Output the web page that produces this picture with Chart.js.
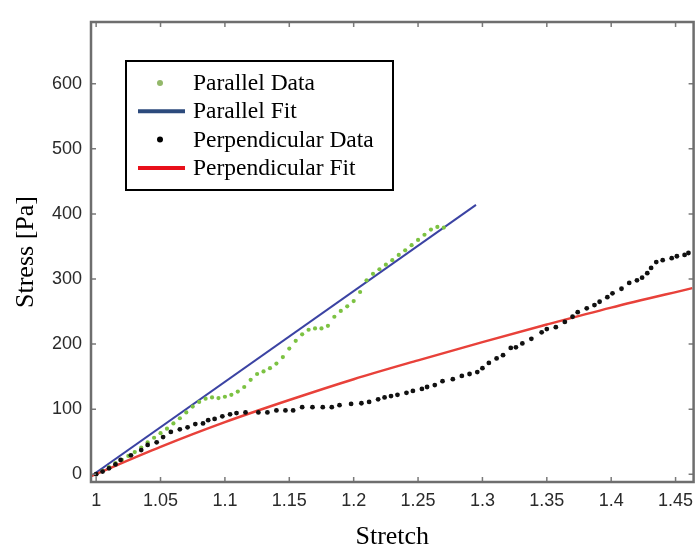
<!DOCTYPE html>
<html>
<head>
<meta charset="utf-8">
<script src="https://cdn.jsdelivr.net/npm/chart.js@4/dist/chart.umd.min.js"></script>
<style>
  html, body { margin: 0; padding: 0; background: #fff; }
</style>
</head>
<body>
<canvas id="stressChart" width="696" height="550"></canvas>
<script>
// Tick labels
const xTicks = [1, 1.05, 1.1, 1.15, 1.2, 1.25, 1.3, 1.35, 1.4, 1.45];
const yTicks = [0, 100, 200, 300, 400, 500, 600];

// Parallel data
const parallelStretch = [1.000, 1.005, 1.010, 1.015, 1.020, 1.025, 1.030, 1.035, 1.040, 1.045,
  1.050, 1.055, 1.060, 1.065, 1.070, 1.075, 1.080, 1.085, 1.090, 1.095,
  1.100, 1.105, 1.110, 1.115, 1.120, 1.125, 1.130, 1.135, 1.140, 1.145,
  1.150, 1.155, 1.160, 1.165, 1.170, 1.175, 1.180, 1.185, 1.190, 1.195,
  1.200, 1.205, 1.210, 1.215, 1.220, 1.225, 1.230, 1.235, 1.240, 1.245,
  1.250, 1.255, 1.260, 1.265, 1.270];
const parallelStress = [0, 5, 11, 17, 22, 28, 34, 41, 49, 56,
  63, 70, 78, 86, 95, 104, 111, 116, 118, 117,
  119, 122, 127, 134, 145, 154, 158, 163, 170, 180,
  193, 205, 215, 222, 224, 224, 228, 242, 251, 258,
  266, 280, 298, 308, 315, 322, 329, 337, 344, 352,
  360, 368, 376, 380, 379];

// Perpendicular data
const perpStretch = [1.000, 1.005, 1.010, 1.015, 1.019, 1.027, 1.035, 1.040, 1.047, 1.052,
  1.058, 1.065, 1.071, 1.077, 1.083, 1.087, 1.092, 1.098, 1.104, 1.109,
  1.116, 1.126, 1.133, 1.140, 1.147, 1.153, 1.160, 1.168, 1.176, 1.183,
  1.189, 1.198, 1.206, 1.212, 1.219, 1.224, 1.229, 1.234, 1.241, 1.246,
  1.253, 1.257, 1.263, 1.269, 1.277, 1.284, 1.290, 1.296, 1.300, 1.305,
  1.311, 1.316, 1.322, 1.326, 1.331, 1.338, 1.346, 1.350, 1.357, 1.364,
  1.370, 1.374, 1.381, 1.387, 1.391, 1.397, 1.401, 1.408, 1.414, 1.420,
  1.424, 1.428, 1.431, 1.435, 1.440, 1.447, 1.451, 1.457, 1.460];
const perpStress = [0, 4, 9, 15, 22, 29, 37, 45, 49, 57,
  65, 69, 72, 77, 78, 83, 85, 89, 92, 94,
  95, 95, 95, 98, 98, 98, 103, 103, 103, 103,
  106, 108, 109, 111, 115, 118, 120, 122, 125, 128,
  131, 134, 137, 143, 146, 151, 154, 157, 163, 171,
  178, 183, 194, 195, 201, 208, 218, 223, 226, 234,
  242, 249, 255, 260, 265, 272, 278, 285, 294, 298,
  302, 309, 317, 326, 329, 332, 335, 337, 340];

// Fits
const parallelFitStretch = [0.996, 1.295];
const parallelFitStress = [-3, 414];
const perpFitStretch = [0.996, 1.05, 1.1, 1.15, 1.2, 1.25, 1.3, 1.35, 1.4, 1.463];
const perpFitStress = [-3, 42, 80, 114, 146, 175, 203, 230, 256, 286];

const toPoints = (xs, ys) => xs.map((x, i) => ({ x: x, y: ys[i] }));

const tickFont = { family: 'Liberation Sans, Arial, sans-serif', size: 18 };
const titleFont = { family: 'Liberation Serif, Times New Roman, serif', size: 26, lineHeight: 1.0 };

// Box around the plot with inward ticks on all four sides
const framePlugin = {
  id: 'frame',
  afterDatasetsDraw(chart) {
    const { ctx, chartArea: a, scales } = chart;
    ctx.save();
    ctx.strokeStyle = '#7a7a7a';
    ctx.lineWidth = 1.5;
    ctx.beginPath();
    xTicks.forEach(v => {
      const px = scales.x.getPixelForValue(v);
      ctx.moveTo(px, a.bottom); ctx.lineTo(px, a.bottom - 5);
      ctx.moveTo(px, a.top); ctx.lineTo(px, a.top + 5);
    });
    yTicks.forEach(v => {
      const py = scales.y.getPixelForValue(v);
      ctx.moveTo(a.left, py); ctx.lineTo(a.left + 5, py);
      ctx.moveTo(a.right, py); ctx.lineTo(a.right - 5, py);
    });
    ctx.stroke();
    ctx.lineWidth = 2.5;
    ctx.strokeStyle = '#6e6e6e';
    ctx.strokeRect(a.left, a.top, a.right - a.left, a.bottom - a.top);
    ctx.restore();
  }
};

// Legend box in the upper left
const legendPlugin = {
  id: 'boxLegend',
  afterDraw(chart) {
    const ctx = chart.ctx;
    const sets = chart.data.datasets;
    ctx.save();
    ctx.fillStyle = '#fff';
    ctx.fillRect(126, 61, 267, 129);
    ctx.strokeStyle = '#000';
    ctx.lineWidth = 2;
    ctx.strokeRect(126, 61, 267, 129);
    ctx.font = '23.5px "Liberation Serif", "Times New Roman", serif';
    ctx.textBaseline = 'middle';
    sets.forEach((ds, i) => {
      const y = 83 + i * 28.3;
      if (ds.showLine) {
        ctx.strokeStyle = ds.legendColor;
        ctx.lineWidth = 4;
        ctx.beginPath();
        ctx.moveTo(138, y); ctx.lineTo(185, y);
        ctx.stroke();
      } else {
        ctx.fillStyle = ds.legendColor;
        ctx.beginPath();
        ctx.arc(160, y, 3, 0, Math.PI * 2);
        ctx.fill();
      }
      ctx.fillStyle = '#000';
      ctx.fillText(ds.label, 193, y + 1);
    });
    ctx.restore();
  }
};

new Chart(document.getElementById('stressChart'), {
  type: 'scatter',
  data: {
    datasets: [
      {
        label: 'Parallel Data',
        data: toPoints(parallelStretch, parallelStress),
        backgroundColor: '#7cc242',
        borderColor: '#7cc242',
        legendColor: '#93b86a',
        pointRadius: 2.1,
        pointHoverRadius: 2.1,
        pointBorderWidth: 0,
        borderWidth: 0,
        showLine: false,
        order: 2
      },
      {
        label: 'Parallel Fit',
        data: toPoints(parallelFitStretch, parallelFitStress),
        borderColor: '#3b43a3',
        legendColor: '#2c4a7c',
        borderWidth: 2,
        pointRadius: 0,
        pointHoverRadius: 0,
        pointBorderWidth: 0,
        showLine: true,
        order: 3
      },
      {
        label: 'Perpendicular Data',
        data: toPoints(perpStretch, perpStress),
        backgroundColor: '#111',
        borderColor: '#111',
        legendColor: '#000',
        pointRadius: 2.4,
        pointHoverRadius: 2.4,
        pointBorderWidth: 0,
        borderWidth: 0,
        showLine: false,
        order: 0
      },
      {
        label: 'Perpendicular Fit',
        data: toPoints(perpFitStretch, perpFitStress),
        borderColor: '#e8413a',
        legendColor: '#e8101a',
        borderWidth: 2.5,
        pointRadius: 0,
        pointHoverRadius: 0,
        pointBorderWidth: 0,
        showLine: true,
        cubicInterpolationMode: 'monotone',
        order: 1
      }
    ]
  },
  options: {
    responsive: false,
    animation: false,
    devicePixelRatio: 1,
    layout: { padding: { top: 22, right: 0, left: 0, bottom: 0 } },
    plugins: {
      legend: { display: false },
      tooltip: { enabled: false }
    },
    scales: {
      x: {
        type: 'linear',
        position: 'bottom',
        min: 0.996,
        max: 1.464,
        afterBuildTicks: s => { s.ticks = xTicks.map(v => ({ value: v })); },
        afterFit: s => { s.height = 68; s.paddingLeft = 0; s.paddingRight = 0; },
        grid: { display: false, drawTicks: false },
        border: { display: false },
        ticks: { font: tickFont, color: '#2a2a2a', padding: 8, maxRotation: 0, callback: v => String(v) },
        title: { display: true, text: 'Stretch', font: titleFont, color: '#000', padding: { top: 0, bottom: 0 } }
      },
      y: {
        type: 'linear',
        min: -12,
        max: 695,
        afterBuildTicks: s => { s.ticks = yTicks.map(v => ({ value: v })); },
        afterFit: s => { s.width = 91; s.paddingTop = 0; s.paddingBottom = 0; },
        grid: { display: false, drawTicks: false },
        border: { display: false },
        ticks: { font: tickFont, color: '#2a2a2a', padding: 9, callback: v => String(v) },
        title: { display: true, text: 'Stress [Pa]', font: titleFont, color: '#000', padding: { top: 13, bottom: 0 } }
      }
    }
  },
  plugins: [framePlugin, legendPlugin]
});
</script>
</body>
</html>
